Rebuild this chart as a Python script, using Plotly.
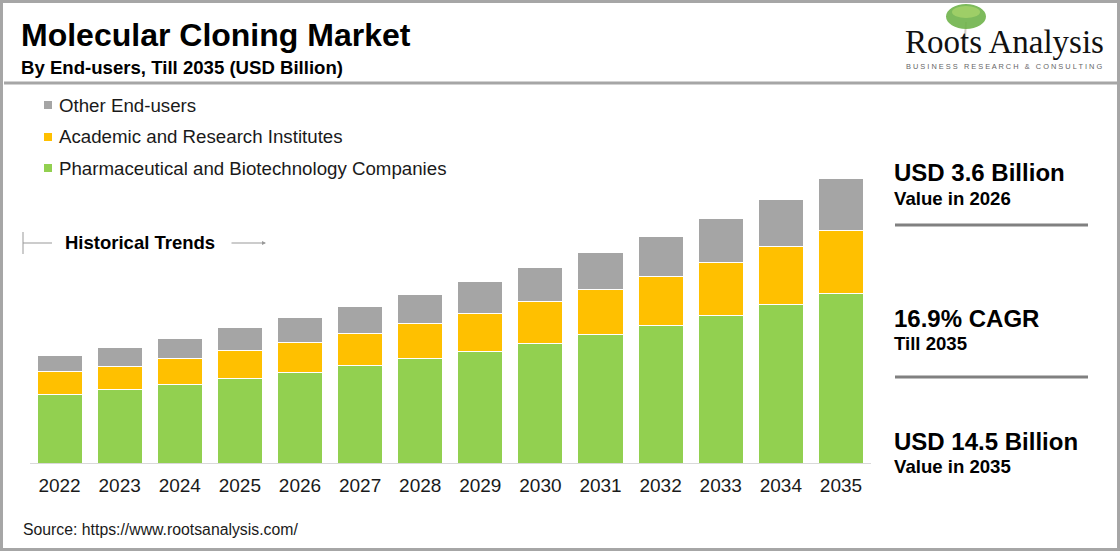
import plotly.graph_objects as go

# Market values by end-user (USD Billion)
years = ["2022", "2023", "2024", "2025", "2026", "2027", "2028",
         "2029", "2030", "2031", "2032", "2033", "2034", "2035"]
pharma = [3.50, 3.75, 3.99, 4.29, 4.62, 4.98, 5.32, 5.67, 6.08, 6.54, 7.00, 7.51, 8.07, 8.63]
academic = [1.14, 1.17, 1.34, 1.45, 1.53, 1.63, 1.78, 1.94, 2.14, 2.29, 2.50, 2.70, 2.95, 3.22]
others = [0.82, 0.98, 1.03, 1.14, 1.24, 1.34, 1.50, 1.65, 1.75, 1.90, 2.05, 2.26, 2.41, 2.65]

series_names = ["Pharmaceutical and Biotechnology Companies",
                "Academic and Research Institutes",
                "Other End-users"]
series_colors = ["#92d050", "#ffc000", "#a5a5a5"]

W, H = 1120, 551
FONT = "Arial, Liberation Sans, sans-serif"
TXT = "#1a1a1a"


def px(x):
    return x / W


def py(y):
    return 1 - y / H


fig = go.Figure()
for name, vals, col in zip(series_names, [pharma, academic, others], series_colors):
    fig.add_trace(go.Bar(
        x=years, y=vals, name=name,
        marker=dict(color=col, line=dict(color="white", width=1)),
        showlegend=False,
        hovertemplate="%{x}: %{y:.2f}<extra>" + name + "</extra>",
    ))

annotations = []
shapes = []

# Title block
annotations.append(dict(text="<b>Molecular Cloning Market</b>", x=px(19), y=py(35),
                        font=dict(size=32, color="#000", family=FONT)))
annotations.append(dict(text="<b>By End-users, Till 2035 (USD Billion)</b>", x=px(19), y=py(68),
                        font=dict(size=18.6, color="#000", family=FONT)))
shapes.append(dict(type="line", xref="paper", yref="paper", x0=px(4), x1=px(1117),
                   y0=py(83), y1=py(83), line=dict(color="#a6a6a6", width=3)))

# Logo (tree canopy + wordmark)
shapes.append(dict(type="line", xref="paper", yref="paper", x0=px(966), x1=px(964),
                   y0=py(22), y1=py(52), line=dict(color="#d5cec2", width=2)))
shapes.append(dict(type="circle", xref="paper", yref="paper", x0=px(946), x1=px(986),
                   y0=py(29), y1=py(4), fillcolor="#6fb34a", line=dict(width=0), opacity=0.9))
shapes.append(dict(type="circle", xref="paper", yref="paper", x0=px(952), x1=px(980),
                   y0=py(18), y1=py(6), fillcolor="#a6d36a", line=dict(width=0), opacity=0.8))
annotations.append(dict(text="Roots Analysis", x=px(1004.5), y=py(42), xanchor="center",
                        font=dict(size=33, color="#111", family="Liberation Serif, Times New Roman, serif")))
annotations.append(dict(text="B U S I N E S S   R E S E A R C H   &   C O N S U L T I N G",
                        x=px(1003.5), y=py(67), xanchor="center",
                        font=dict(size=7.4, color="#666", family=FONT)))

# Legend (top to bottom: others, academic, pharma)
legend_y = [105, 137, 168]
for yy, name, col in zip(legend_y, series_names[::-1], series_colors[::-1]):
    shapes.append(dict(type="rect", xref="paper", yref="paper", x0=px(44), x1=px(52),
                       y0=py(yy + 4), y1=py(yy - 4), fillcolor=col, line=dict(width=0)))
    annotations.append(dict(text=name, x=px(57), y=py(yy),
                            font=dict(size=18.7, color=TXT, family=FONT)))

# Historical trends marker
shapes.append(dict(type="line", xref="paper", yref="paper", x0=px(23), x1=px(23),
                   y0=py(232), y1=py(254), line=dict(color="#999", width=1)))
shapes.append(dict(type="line", xref="paper", yref="paper", x0=px(23), x1=px(52),
                   y0=py(243), y1=py(243), line=dict(color="#999", width=1)))
annotations.append(dict(text="<b>Historical Trends</b>", x=px(63), y=py(243),
                        font=dict(size=18.5, color="#000", family=FONT)))
annotations.append(dict(text="", x=px(266), y=py(243), ax=-38, ay=0,
                        showarrow=True, arrowhead=2, arrowsize=0.8, arrowwidth=1, arrowcolor="#999"))

# Right-hand highlights
highlights = [("USD 3.6 Billion", "Value in 2026", 172, 198),
              ("16.9% CAGR", "Till 2035", 318, 343),
              ("USD 14.5 Billion", "Value in 2035", 441, 466)]
for big, small, y1, y2 in highlights:
    annotations.append(dict(text="<b>" + big + "</b>", x=px(892), y=py(y1),
                            font=dict(size=24, color="#000", family=FONT)))
    annotations.append(dict(text="<b>" + small + "</b>", x=px(892), y=py(y2),
                            font=dict(size=18.6, color="#000", family=FONT)))
for yy in [225, 377]:
    shapes.append(dict(type="line", xref="paper", yref="paper", x0=px(895), x1=px(1088),
                       y0=py(yy), y1=py(yy), line=dict(color="#808080", width=3)))

# Source
annotations.append(dict(text="Source: https://www.rootsanalysis.com/", x=px(21), y=py(529),
                        font=dict(size=15.8, color=TXT, family=FONT)))

# Outer frame
shapes.append(dict(type="rect", xref="paper", yref="paper", x0=px(1.5), x1=px(1118.5),
                   y0=py(549.5), y1=py(1.5), line=dict(color="#a6a6a6", width=3)))

for a in annotations:
    a.setdefault("xref", "paper")
    a.setdefault("yref", "paper")
    a.setdefault("xanchor", "left")
    a.setdefault("yanchor", "middle")
    a.setdefault("showarrow", False)

fig.update_layout(
    barmode="stack",
    bargap=0.25,
    width=W, height=H,
    margin=dict(l=0, r=0, t=0, b=0),
    paper_bgcolor="white", plot_bgcolor="white",
    font=dict(family=FONT, color=TXT),
    annotations=annotations,
    shapes=shapes,
    xaxis=dict(domain=[px(29.5), px(871)], showline=True, linecolor="#d9d9d9", linewidth=1,
               ticks="", ticklabelstandoff=5, tickfont=dict(size=19, color=TXT, family=FONT),
               showgrid=False, zeroline=False, fixedrange=True),
    yaxis=dict(domain=[py(463), py(148.9)], range=[0, 16], visible=False,
               showgrid=False, zeroline=False, fixedrange=True),
)

# drop the browser's default body margin so the figure sits flush in the window
fig.write_html("out.html", config={"displayModeBar": False},
               post_script="document.body.style.margin='0';document.body.style.overflow='hidden';")
